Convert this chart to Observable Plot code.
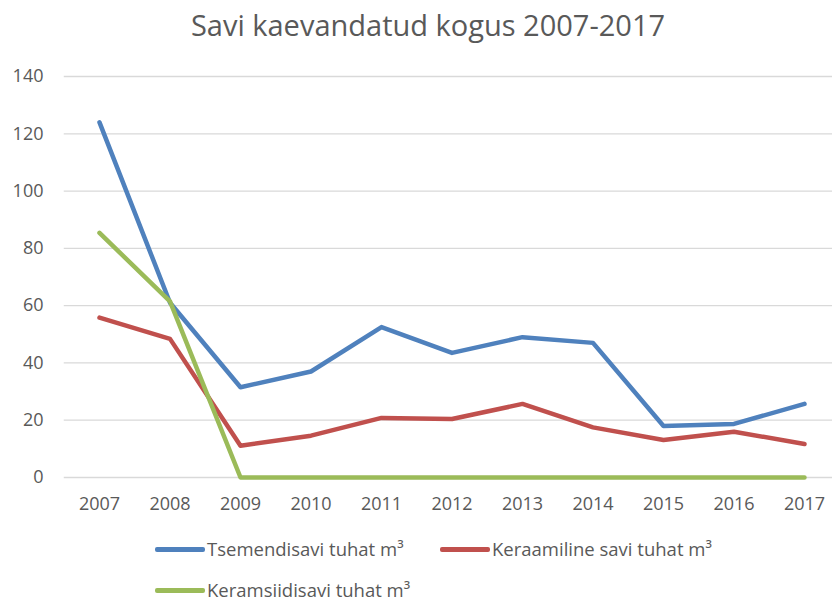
<!DOCTYPE html>
<html><head><meta charset="utf-8">
<script src="https://cdn.jsdelivr.net/npm/d3@7"></script>
<script src="https://cdn.jsdelivr.net/npm/@observablehq/plot@0.6"></script>
<style>
html,body{margin:0;padding:0;background:#fff;overflow:hidden;}
body{font-family:"Open Sans",sans-serif;color:#595959;width:832px;height:603px;}
#title{height:50px;line-height:50px;text-align:center;font-size:29px;color:#595959;padding-left:24px;}
#chart svg{display:block;overflow:visible;}
#legend{margin-top:-1px;}
.row{display:flex;align-items:center;height:41px;padding-left:155px;}
.item{display:flex;align-items:center;font-size:18.5px;line-height:1.1;color:#595959;}
.item.first{width:285px;}
.sw{width:50px;height:5px;border-radius:2px;margin-right:2px;}
</style></head><body>
<div id="title">Savi kaevandatud kogus 2007-2017</div>
<div id="chart"></div>
<div id="legend"></div>
<script>
const years = [2007, 2008, 2009, 2010, 2011, 2012, 2013, 2014, 2015, 2016, 2017];
const tsemendisavi = [124, 61, 31.5, 37, 52.5, 43.5, 49, 47, 18, 18.7, 25.7];
const keraamilineSavi = [55.8, 48.4, 11.1, 14.6, 20.8, 20.4, 25.7, 17.5, 13.1, 16, 11.7];
const keramsiidisavi = [85.4, 61.5, 0, 0, 0, 0, 0, 0, 0, 0, 0];
const seriesNames = ["Tsemendisavi tuhat m³", "Keraamiline savi tuhat m³", "Keramsiidisavi tuhat m³"];
const seriesColors = ["#4F81BD", "#C0504D", "#9BBB59"];
const yTicks = [0, 20, 40, 60, 80, 100, 120, 140];

const seriesValues = [tsemendisavi, keraamilineSavi, keramsiidisavi];
const data = seriesNames.flatMap((name, i) =>
  years.map((year, j) => ({year, value: seriesValues[i][j], series: name})));

const chart = Plot.plot({
  width: 832,
  height: 480,
  marginTop: 26,
  marginBottom: 53,
  marginLeft: 99,
  marginRight: 28,
  style: {fontFamily: "'Open Sans', sans-serif", color: "#595959", background: "#fff"},
  x: {domain: [2007, 2017], type: "linear"},
  y: {domain: [0, 140]},
  color: {domain: seriesNames, range: seriesColors},
  marks: [
    Plot.ruleY(yTicks, {x1: () => 2006.5, x2: () => 2017.5, stroke: "#d9d9d9", strokeWidth: 1.3}),
    Plot.axisY(yTicks, {tickSize: 0, tickPadding: 56, fontSize: 18, fill: "#595959", label: null}),
    Plot.axisX(years, {tickSize: 0, tickPadding: 20, fontSize: 18, fill: "#595959", tickFormat: d => String(d), label: null}),
    Plot.line(data, {x: "year", y: "value", z: "series", stroke: "series", strokeWidth: 4.5, strokeLinejoin: "round", strokeLinecap: "round"})
  ]
});
document.getElementById("chart").appendChild(chart);

const legend = document.getElementById("legend");
const rows = [[0, 1], [2]];
rows.forEach(r => {
  const row = document.createElement("div");
  row.className = "row";
  r.forEach((i, k) => {
    const item = document.createElement("div");
    item.className = "item" + (k === 0 ? " first" : "");
    const sw = document.createElement("span");
    sw.className = "sw";
    sw.style.background = seriesColors[i];
    const t = document.createElement("span");
    t.textContent = seriesNames[i];
    item.appendChild(sw); item.appendChild(t);
    row.appendChild(item);
  });
  legend.appendChild(row);
});
</script>
</body></html>
